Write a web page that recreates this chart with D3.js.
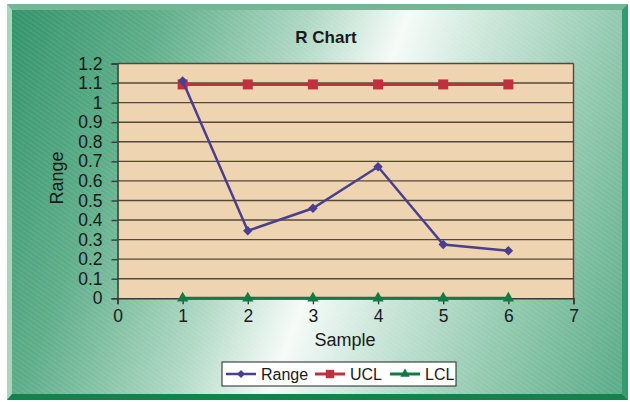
<!DOCTYPE html>
<html><head><meta charset="utf-8">
<script src="https://cdn.jsdelivr.net/npm/d3@7"></script>
<style>html,body{margin:0;padding:0;background:#fff;}svg{display:block;}</style>
</head><body>
<svg id="c" width="630" height="402"></svg>
<script>
const samples = [1, 2, 3, 4, 5, 6];
const rangeValues = [1.11, 0.345, 0.46, 0.672, 0.275, 0.243];
const uclValues = [1.093, 1.093, 1.093, 1.093, 1.093, 1.093];
const lclValues = [0, 0, 0, 0, 0, 0];
const xTicks = [0, 1, 2, 3, 4, 5, 6, 7];
const yTicks = [0, 0.1, 0.2, 0.3, 0.4, 0.5, 0.6, 0.7, 0.8, 0.9, 1, 1.1, 1.2];
const seriesNames = ["Range", "UCL", "LCL"];

const svg = d3.select("#c");
const defs = svg.append("defs");
const g1 = defs.append("linearGradient").attr("id","bg").attr("gradientUnits","userSpaceOnUse")
  .attr("x1",12).attr("y1",10).attr("x2",674).attr("y2",253);
[[0,"#33946a"],[0.2,"#5fae8a"],[0.4,"#afd8c4"],[0.53,"#f6fbf8"],[0.62,"#d3eadf"],[0.8,"#96cbb2"],[1,"#5aac87"]]
  .forEach(([o,c])=>g1.append("stop").attr("offset",o).attr("stop-color",c));
const pat = defs.append("pattern").attr("id","hatch").attr("patternUnits","userSpaceOnUse")
  .attr("width",4).attr("height",4).attr("patternTransform","rotate(-55)");
pat.append("line").attr("x1",0).attr("y1",0).attr("x2",0).attr("y2",4)
  .attr("stroke","#ffffff").attr("stroke-opacity",0.12).attr("stroke-width",1.5);

// frame bevels
svg.append("rect").attr("x",7).attr("y",4).attr("width",621).attr("height",396).attr("fill","#74b696");
svg.append("polygon").attr("points","7,4 12,10 12,394 7,400").attr("fill","#a9d5bf");
svg.append("polygon").attr("points","628,4 622,10 622,394 628,400").attr("fill","#2f9e6e");
svg.append("polygon").attr("points","7,400 12,394 622,394 628,400").attr("fill","#12834a");
svg.append("rect").attr("x",12).attr("y",10).attr("width",610).attr("height",384).attr("fill","url(#bg)");
svg.append("rect").attr("x",12).attr("y",10).attr("width",610).attr("height",384).attr("fill","url(#hatch)");

const m = {l:117.5, r:573.5, t:63.5, b:298.3};
const x = d3.scaleLinear().domain([0,7]).range([m.l, m.r]);
const y = d3.scaleLinear().domain([0,1.2]).range([m.b, m.t]);

svg.append("rect").attr("x",m.l).attr("y",m.t).attr("width",m.r-m.l).attr("height",m.b-m.t).attr("fill","#eed4b1");

// grid
svg.append("g").selectAll("line").data(yTicks.filter(d=>d>0)).join("line")
  .attr("x1",m.l).attr("x2",m.r).attr("y1",d=>y(d)).attr("y2",d=>y(d))
  .attr("stroke","#54483c").attr("stroke-width",1.4);
svg.append("line").attr("x1",m.r).attr("x2",m.r).attr("y1",m.t).attr("y2",m.b).attr("stroke","#54483c").attr("stroke-width",1.4);

const fontFam = "Liberation Sans, Arial, sans-serif";
const yAxis = svg.append("g").attr("transform",`translate(${m.l},0)`)
  .call(d3.axisLeft(y).tickValues(yTicks).tickSize(6).tickPadding(9).tickFormat(d=>d3.format("")(+d.toFixed(1))));
const xAxis = svg.append("g").attr("transform",`translate(0,${m.b})`)
  .call(d3.axisBottom(x).tickValues(xTicks).tickSize(6).tickPadding(5).tickFormat(d3.format("d")));
[yAxis,xAxis].forEach(a=>{
  a.select(".domain").attr("stroke","#3a3a3a").attr("stroke-width",1.6);
  a.selectAll(".tick line").attr("stroke","#3a3a3a").attr("stroke-width",1.4);
  a.selectAll(".tick text").attr("font-family",fontFam).attr("font-size",17.5).attr("fill","#1a1a1a");
});

// titles
svg.append("text").attr("x",326).attr("y",43).attr("text-anchor","middle").attr("font-family",fontFam)
  .attr("font-weight","bold").attr("font-size",17).attr("fill","#1a1a1a").text("R Chart");
svg.append("text").attr("x",345).attr("y",346).attr("text-anchor","middle").attr("font-family",fontFam)
  .attr("font-size",18).attr("fill","#1a1a1a").text("Sample");
svg.append("text").attr("transform","translate(63,178) rotate(-90)").attr("text-anchor","middle").attr("font-family",fontFam)
  .attr("font-size",18).attr("fill","#1a1a1a").text("Range");

const colors = {Range:"#4a3f8c", UCL:"#c1303f", LCL:"#137a45"};
const shapes = {Range:d3.symbolSquare, UCL:d3.symbolSquare, LCL:d3.symbolTriangle};
const rot = {Range:45, UCL:0, LCL:0};
const sizes = {Range:45, UCL:100, LCL:55};
const widths = {Range:2.5, UCL:3, LCL:3};
const data = {Range:rangeValues, UCL:uclValues, LCL:lclValues};
const line = d3.line().x((d,i)=>x(samples[i])).y(d=>y(d));

["LCL","UCL","Range"].forEach(s=>{
  svg.append("path").datum(data[s]).attr("d",line).attr("fill","none")
    .attr("stroke",colors[s]).attr("stroke-width",widths[s]);
  svg.append("g").selectAll("path").data(data[s]).join("path")
    .attr("transform",(d,i)=>`translate(${x(samples[i])},${y(d)}) rotate(${rot[s]})`)
    .attr("d",d3.symbol(shapes[s],sizes[s])).attr("fill",colors[s]);
});

// legend
const lg = svg.append("g");
lg.append("rect").attr("x",222).attr("y",362).attr("width",234).attr("height",24)
  .attr("fill","#fff").attr("stroke","#222").attr("stroke-width",1);
const lx = [226, 315, 390];
seriesNames.forEach((s,i)=>{
  lg.append("line").attr("x1",lx[i]).attr("x2",lx[i]+30).attr("y1",374).attr("y2",374)
    .attr("stroke",colors[s]).attr("stroke-width",widths[s]);
  lg.append("path").attr("transform",`translate(${lx[i]+15},374) rotate(${rot[s]})`)
    .attr("d",d3.symbol(shapes[s],sizes[s]*0.7)).attr("fill",colors[s]);
  lg.append("text").attr("x",lx[i]+35).attr("y",380).attr("font-family",fontFam)
    .attr("font-size",16).attr("fill","#1a1a1a").text(s);
});
</script>
</body></html>
